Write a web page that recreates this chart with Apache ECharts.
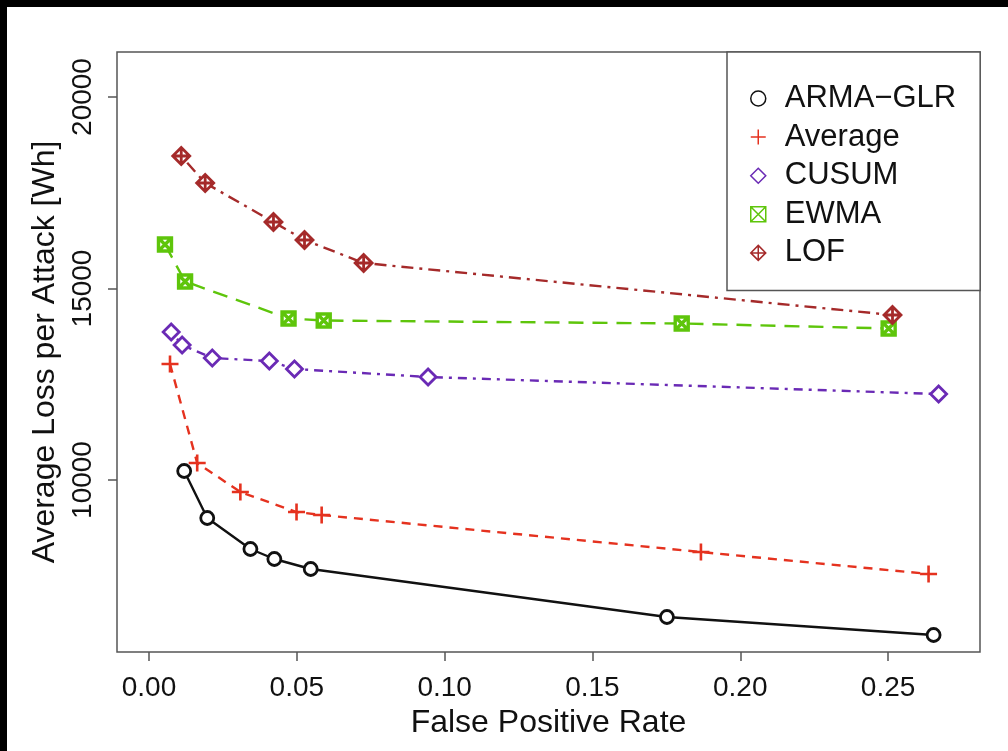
<!DOCTYPE html>
<html>
<head>
<meta charset="utf-8">
<script src="https://cdn.jsdelivr.net/npm/echarts@6/dist/echarts.min.js"></script>
<style>
  html, body { margin: 0; padding: 0; background: #000; }
  #chart { position: absolute; left: 7px; top: 7px; width: 1001px; height: 744px; background: #fff; }
</style>
</head>
<body>
<div id="chart"></div>
<script>
// values: [false positive rate, average loss in Wh]
var armaGlr = [[0.0119, 10235], [0.0197, 9008], [0.0343, 8198], [0.0424, 7937], [0.0547, 7676], [0.1752, 6423], [0.2654, 5953]];
var average = [[0.0071, 13029], [0.0163, 10444], [0.0309, 9687], [0.0499, 9164], [0.0584, 9086], [0.1867, 8120], [0.2637, 7546]];
var cusum = [[0.0075, 13864], [0.0112, 13525], [0.0214, 13185], [0.0407, 13107], [0.0492, 12898], [0.0944, 12689], [0.2671, 12245]];
var ewma = [[0.0054, 16149], [0.0122, 15183], [0.0472, 14217], [0.0591, 14164], [0.1802, 14086], [0.2502, 13956]];
var lof = [[0.0109, 18460], [0.0190, 17755], [0.0421, 16736], [0.0526, 16266], [0.0726, 15666], [0.2515, 14308]];

var xTicks = [0, 0.05, 0.10, 0.15, 0.20, 0.25];
var yTicks = [10000, 15000, 20000];

// R-like symbols
var pchCircle = 'path://M10,5 A5,5 0 1,1 0,5 A5,5 0 1,1 10,5 Z';
var pchPlus = 'path://M0,5 L10,5 M5,0 L5,10';
var pchDiamond = 'path://M5,0 L10,5 L5,10 L0,5 Z';
var pchBoxX = 'path://M0,0 L10,0 L10,10 L0,10 Z M0,0 L10,10 M10,0 L0,10';
var pchDiamondPlus = 'path://M5,0 L10,5 L5,10 L0,5 Z M5,0 L5,10 M0,5 L10,5';

var names = ['ARMA\u2212GLR', 'Average', 'CUSUM', 'EWMA', 'LOF'];
var colors = ['#111111', '#e5321f', '#6a2ab5', '#5ec50b', '#a52a2a'];
var symbols = [pchCircle, pchPlus, pchDiamond, pchBoxX, pchDiamondPlus];
var sizes = [13, 17, 16, 13, 17];
var strokes = [2.8, 2.6, 2.8, 3.4, 2.8];
var dashes = ['solid', [9, 7], [3, 6, 9, 6], [15, 9], [3, 6, 12, 6]];
var datasets = [armaGlr, average, cusum, ewma, lof];

var myChart = echarts.init(document.getElementById('chart'));

var series = [];
for (var i = 0; i < names.length; i++) {
    series.push({
        name: names[i],
        type: 'line',
        data: datasets[i],
        symbol: symbols[i],
        symbolSize: sizes[i],
        symbolKeepAspect: true,
        lineStyle: { color: colors[i], width: 2.4, type: dashes[i] },
        itemStyle: { color: '#fff', borderColor: colors[i], borderWidth: strokes[i] },
        emphasis: { disabled: true },
        animation: false
    });
}

var legendData = names.map(function (n, i) {
    return {
        name: n,
        icon: symbols[i],
        itemStyle: { color: 'rgba(0,0,0,0)', borderColor: colors[i], borderWidth: 1.5 }
    };
});

myChart.setOption({
    backgroundColor: '#fff',
    textStyle: { fontFamily: 'Liberation Sans, Arial, sans-serif' },
    grid: {
        left: 110, right: 28, top: 45, bottom: 99,
        show: true, borderColor: '#555', borderWidth: 1.5, backgroundColor: 'transparent'
    },
    legend: {
        orient: 'vertical',
        left: 720, top: 45,
        data: legendData,
        itemWidth: 15, itemHeight: 15,
        itemGap: 7.6,
        padding: [31, 24, 22, 23],
        backgroundColor: '#fff',
        borderColor: '#555', borderWidth: 1.5,
        borderRadius: 0,
        selectedMode: false,
        textStyle: { fontSize: 31, color: '#111', padding: [0, 0, 0, 14] }
    },
    xAxis: {
        type: 'value',
        min: -0.01083, max: 0.2811,
        name: 'False Positive Rate',
        nameLocation: 'middle',
        nameGap: 50,
        nameTextStyle: { fontSize: 32, color: '#111' },
        axisLine: { show: false, onZero: false },
        splitLine: { show: false },
        axisTick: { show: true, customValues: xTicks, length: 9, lineStyle: { color: '#555', width: 1.5 } },
        axisLabel: {
            customValues: xTicks, fontSize: 28, color: '#111', margin: 22,
            formatter: function (v) { return v.toFixed(2); }
        }
    },
    yAxis: {
        type: 'value',
        min: 5509, max: 21175,
        name: 'Average Loss per Attack [Wh]',
        nameLocation: 'middle',
        nameGap: 53,
        nameTextStyle: { fontSize: 32, color: '#111' },
        axisLine: { show: false, onZero: false },
        splitLine: { show: false },
        axisTick: { show: true, customValues: yTicks, length: 9, lineStyle: { color: '#555', width: 1.5 } },
        axisLabel: {
            customValues: yTicks, fontSize: 28, color: '#111', margin: 20, rotate: 90,
            formatter: function (v) { return String(v); }
        }
    },
    series: series
});
</script>
</body>
</html>
